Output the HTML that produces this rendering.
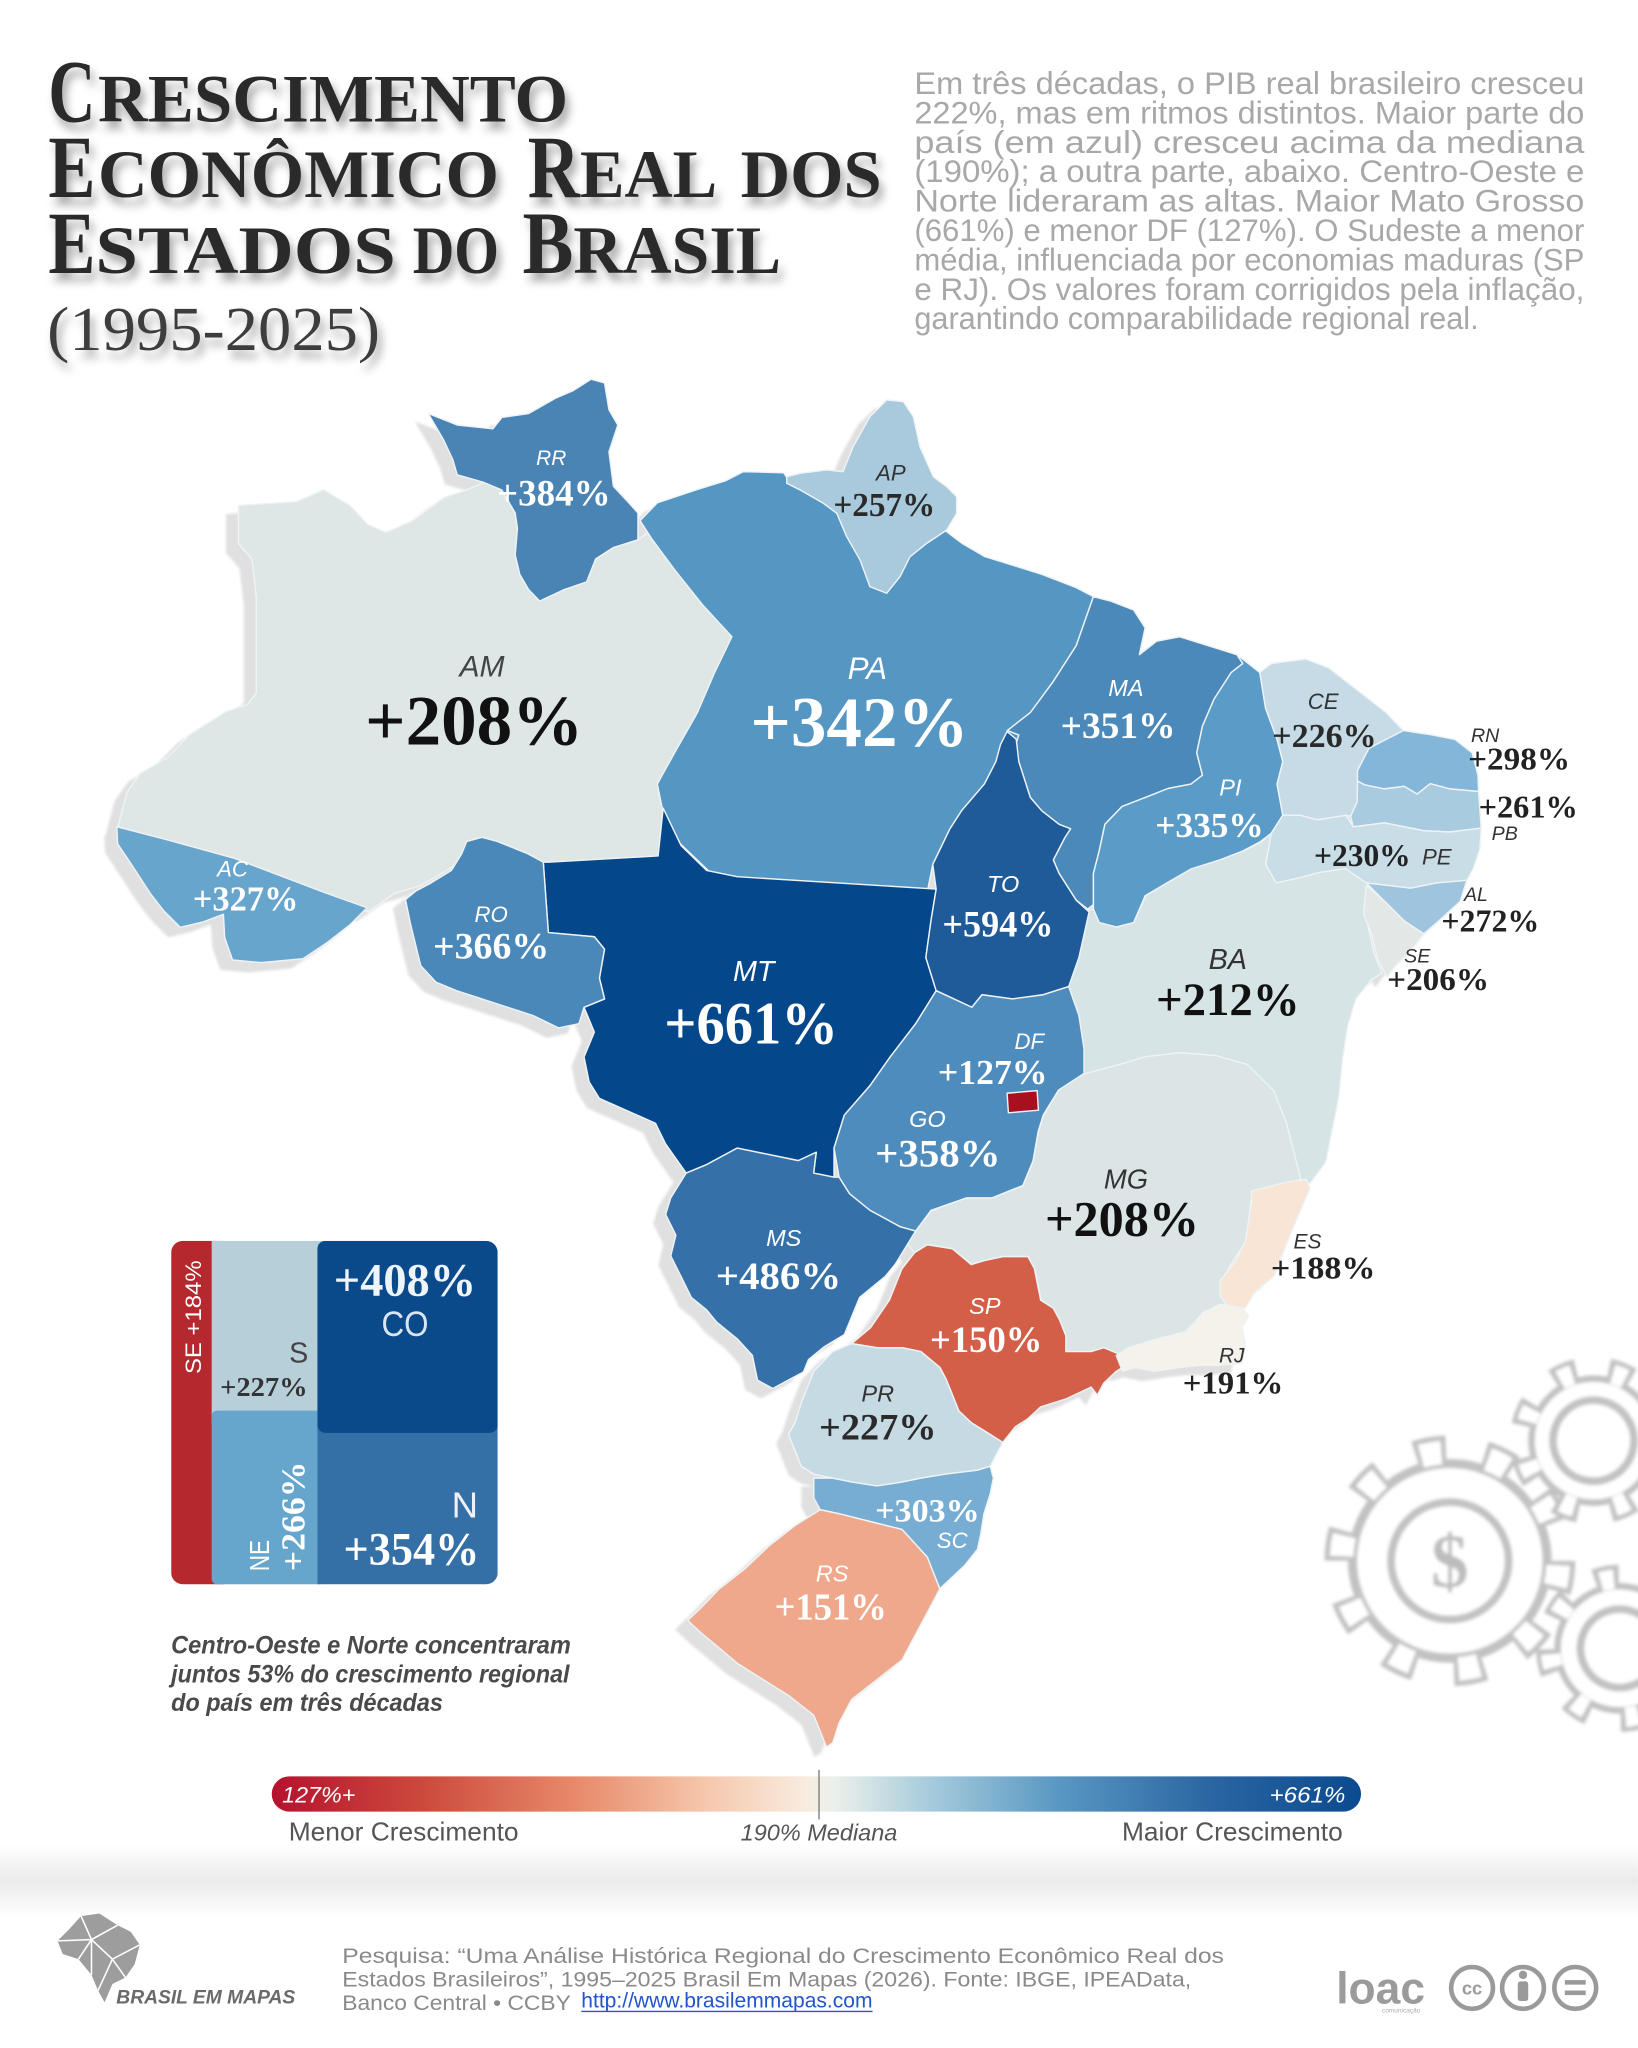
<!DOCTYPE html>
<html><head><meta charset="utf-8"><style>
html,body{margin:0;padding:0;background:#fff;}
svg{display:block;}
</style></head><body>
<svg width="1638" height="2048" viewBox="0 0 1254 1568" xmlns="http://www.w3.org/2000/svg" xmlns:xlink="http://www.w3.org/1999/xlink">
<defs>
<filter id="ts" x="-5%" y="-30%" width="115%" height="180%"><feDropShadow dx="3" dy="6" stdDeviation="3.5" flood-color="#000" flood-opacity="0.35"/></filter>
<filter id="flat" x="-5%" y="-5%" width="110%" height="110%"><feFlood flood-color="#e0e0e0"/><feComposite in2="SourceAlpha" operator="in"/><feGaussianBlur stdDeviation="1"/></filter>
<filter id="gblur"><feGaussianBlur stdDeviation="1.2"/></filter>
<linearGradient id="leg" x1="0" x2="1" y1="0" y2="0">
<stop offset="0" stop-color="#b5122e"/><stop offset="0.14" stop-color="#cc4a3c"/><stop offset="0.28" stop-color="#e88a6a"/><stop offset="0.40" stop-color="#f6c8ad"/><stop offset="0.49" stop-color="#f8ecdf"/><stop offset="0.515" stop-color="#edf0ea"/><stop offset="0.6" stop-color="#a9cddd"/><stop offset="0.72" stop-color="#5a98c4"/><stop offset="0.86" stop-color="#2b66a2"/><stop offset="1" stop-color="#0b4a8f"/>
</linearGradient>
<linearGradient id="band" x1="0" x2="0" y1="0" y2="1">
<stop offset="0" stop-color="#fff"/><stop offset="0.5" stop-color="#ebebeb"/><stop offset="1" stop-color="#fff"/>
</linearGradient>
<clipPath id="tmclip"><rect x="131" y="950" width="250" height="263" rx="9"/></clipPath>
</defs>

<!-- Title -->
<g font-family="'Liberation Serif', serif" font-weight="bold" fill="#2a2a2a" filter="url(#ts)">
<text x="37" y="93" font-size="68" textLength="36" lengthAdjust="spacingAndGlyphs">C</text>
<text x="75" y="93" font-size="52" textLength="360" lengthAdjust="spacingAndGlyphs">RESCIMENTO</text>
<text x="37" y="151" font-size="68" textLength="36" lengthAdjust="spacingAndGlyphs">E</text>
<text x="75" y="151" font-size="52" textLength="307" lengthAdjust="spacingAndGlyphs">CONÔMICO</text>
<text x="404" y="151" font-size="68" textLength="40" lengthAdjust="spacingAndGlyphs">R</text>
<text x="444" y="151" font-size="52" textLength="105" lengthAdjust="spacingAndGlyphs">EAL</text>
<text x="567" y="151" font-size="52" textLength="108" lengthAdjust="spacingAndGlyphs">DOS</text>
<text x="37" y="209" font-size="68" textLength="36" lengthAdjust="spacingAndGlyphs">E</text>
<text x="73" y="209" font-size="52" textLength="230" lengthAdjust="spacingAndGlyphs">STADOS</text>
<text x="316" y="209" font-size="52" textLength="66" lengthAdjust="spacingAndGlyphs">DO</text>
<text x="400" y="209" font-size="68" textLength="39" lengthAdjust="spacingAndGlyphs">B</text>
<text x="439" y="209" font-size="52" textLength="159" lengthAdjust="spacingAndGlyphs">RASIL</text>
</g>
<text x="36" y="268" font-family="'Liberation Serif', serif" font-size="48" fill="#3c3c3c" textLength="255" lengthAdjust="spacingAndGlyphs" filter="url(#ts)">(1995-2025)</text>

<!-- Paragraph -->
<g font-family="'Liberation Sans', sans-serif" font-size="24" fill="#a8a8a8">
<text x="700" y="72" textLength="513" lengthAdjust="spacingAndGlyphs">Em três décadas, o PIB real brasileiro cresceu</text>
<text x="700" y="94.5" textLength="513" lengthAdjust="spacingAndGlyphs">222%, mas em ritmos distintos. Maior parte do</text>
<text x="700" y="117" textLength="513" lengthAdjust="spacingAndGlyphs">país (em azul) cresceu acima da mediana</text>
<text x="700" y="139.5" textLength="513" lengthAdjust="spacingAndGlyphs">(190%); a outra parte, abaixo. Centro-Oeste e</text>
<text x="700" y="162" textLength="513" lengthAdjust="spacingAndGlyphs">Norte lideraram as altas. Maior Mato Grosso</text>
<text x="700" y="184.5" textLength="513" lengthAdjust="spacingAndGlyphs">(661%) e menor DF (127%). O Sudeste a menor</text>
<text x="700" y="207" textLength="513" lengthAdjust="spacingAndGlyphs">média, influenciada por economias maduras (SP</text>
<text x="700" y="229.5" textLength="513" lengthAdjust="spacingAndGlyphs">e RJ). Os valores foram corrigidos pela inflação,</text>
<text x="700" y="252" textLength="432" lengthAdjust="spacingAndGlyphs">garantindo comparabilidade regional real.</text>
</g>

<!-- Map shadow -->
<use xlink:href="#map" href="#map" transform="translate(-9,7)" filter="url(#flat)"/>

<!-- Map -->
<g id="map" stroke="#eef3f6" stroke-width="1.1" stroke-linejoin="round">
<polygon fill="#dee7e6" points="182.5,387 227,384 247.5,375 268,387 281.6,401.6 295.3,407.5 315.8,398.7 339.7,381 356.8,375.2 370.5,369.4 384.2,375.2 394.4,392.8 396.1,404.5 394.4,425 397.9,439.7 404.7,451.4 413.2,460.2 432,451.4 449.1,445.5 456,428 469.6,419.2 488.4,413.3 500,405 530,440 565,487 545,530 525,590 512,625 510,658 418,662 400,658 374,646 360,652 353,660 322,678 302,684 282,698 247.5,686 179,660 128,645 90.2,633 97.1,606.7 107.3,592 127.8,580.3 144.9,562.7 172.3,545.2 189.4,539.3 196.2,530.5 196.2,457.3 192.8,428 182.5,416.2"/>
<polygon fill="#5596c3" points="490,398.6 503.2,385 533.9,374.7 555.9,367.9 569.1,361.1 600,362 604,368 640,375 690,400 722,405 736.1,415.7 753.6,426 775.6,432.8 797.6,439.7 823.9,449.9 837.1,456.8 823.9,494.4 806.4,521.7 788.8,545.6 771.2,559.3 780,562.7 775.6,576.4 762.4,583.2 753.6,600.3 736.1,620.8 727.3,634.5 714.1,661.8 709.7,684 643.8,679 577.9,674 542.7,667 520.8,646 507.6,622 503.2,600.3 516.4,576.4 533.9,545.6 547.1,514.9 560.3,487.5 538.3,463.6 516.4,436.2 498.8,412.3"/>
<polygon fill="#04488b" points="419.8,660.1 503.8,655.3 507.7,618.8 521.4,647.4 540.9,666.4 564.3,671.2 716.7,680.7 712.8,704.5 708.8,733.1 716.7,758.5 701,783.8 681.5,809.2 665.9,831.4 646.4,853.7 638.5,879 638.5,901.3 622.9,898.1 624.9,882.2 611.2,888.6 587.8,883.8 564.3,879 540.9,891.7 525.3,898.1 509.6,875.9 501.8,860 458.9,841 451,828.3 447.1,809.2 455,790.2 447.1,771.2 462.8,764.8 458.9,748.9 462.8,726.7 455,717.2 419.8,714 415.9,660.1"/>
<polygon fill="#d6e4e6" points="815,700 837,696 855,710 868,706 877,686 894,675 912,665 934,658 951,652 965,645 975,636 1000,640 1040,650 1057,686 1045,695 1048,712 1052,730 1058,745 1050,750 1038,765 1032,785 1028,810 1025,840 1020,865 1015,890 1003,906 990,906 975,860 955,830 900,820 830,830 815,760"/>
<polygon fill="#dbe5e5" points="820,825 857,815 877,809 903,806 930,808 955,815 975,835 985,860 990,880 996,903 975,912 958,918 954,950 940,972 934,992 941,1002 922,1004 908,1020 884,1026 864,1032 855,1038 845,1032 835,1035 816,1035 816,1023 811,1011 806,1002 797,995 792,971 787,962 768,962 753,965 744,968 729,956 710,953 700,959 693,950 701,942 713,927 740,917 760,917 783,908 791,889 795,866 799,854 810,835"/>
<polygon fill="#4a84b5" points="327.8,316.6 350,325.4 377.3,328.3 384.2,319.6 404.7,316.6 425.2,304.9 438.9,299 452.5,290.3 462.8,293.2 466.2,313.7 473,325.4 466.2,345.9 469.6,372.3 483.3,387 488.4,392.8 488.4,413.3 469.6,419.2 456,428 449.1,445.5 432,451.4 413.2,460.2 404.7,451.4 397.9,439.7 394.4,425 396.1,404.5 394.4,392.8 384.2,375.2 370.5,369.4 350,363.5 346.6,351.8 339.7,337.1"/>
<polygon fill="#a9c9dd" points="602.3,365 612.5,362.4 632.9,359.8 645.4,361.1 653.1,342 666,319 678.8,306.2 691.6,307.5 699.2,319 704.3,342 714.5,365 724.8,372.6 732.4,380.3 732.4,393 724.8,405.8 709.5,416 696.7,426.2 689,441.5 678.8,454.2 666,449.2 658.4,428.7 648.2,410.9 640.6,393 630.3,385.3 612.5,375.1 602.3,370"/>
<polygon fill="#68a5cd" points="89.4,633 128,643 179,657 247.5,683 281,695 268,708 250,722 232,734 200,737 178,735 172,718 171,700 155,706 138,710 125,697 115,684 102,664 90,646"/>
<polygon fill="#4a88ba" points="357.3,644.2 369,641.1 380.7,644.2 404.2,653.7 415.9,660.1 419.8,714 455,717.2 462.8,726.7 458.9,748.9 462.8,764.8 447.1,771.2 443.2,783.8 427.6,787 408.1,777.5 388.6,771.2 369,764.8 349.5,758.5 333.9,752.1 322.1,739.4 314.3,707.7 310.4,688.7 318.2,682.3 330,676 345.6,666.4 353.4,653.7"/>
<polygon fill="#4a89b9" points="837.1,456.8 850.3,460.2 867.9,467 876.7,480.7 872.3,501.2 885.5,490.9 903,487.5 925,494.4 947,501.2 951.4,508 942.6,514.9 929.4,535.4 920.6,555.9 916.2,576.4 920.6,593.5 911.8,600.3 894.2,603.7 876.7,610.6 859.1,617.4 845.9,631.1 841.5,651.6 837.1,668.7 837.1,692.6 832.7,696 823.9,689.2 810.8,668.7 806.4,658.4 815.2,641.3 819.6,634.5 810.8,631.1 797.6,620.8 788.8,610.6 780,583.2 775.6,576.4 780,562.7 771.2,559.3 788.8,545.6 806.4,521.7 823.9,494.4"/>
<polygon fill="#1f5a99" points="771,560 778,566 780,583.2 788.8,610.6 797.6,620.8 810.8,631.1 819.6,634.5 815.2,641.3 806.4,658.4 810.8,668.7 823.9,689.2 833.8,698.2 826,733.1 818.2,755.3 798.7,761.6 775.2,764.8 751.8,761.6 744,771.2 716.7,758.5 708.8,733.1 712.8,704.5 716.7,680.7 714.1,661.8 727.3,634.5 736.1,620.8 753.6,600.3 762.4,583.2 766,570"/>
<polygon fill="#5b9bc8" points="947,501.2 955.8,508 964.5,514.9 968.9,542.2 977.7,566.1 982.1,583.2 977.7,600.3 982.1,624.2 973.3,637.9 964.5,644.7 951.4,651.6 933.8,658.4 911.8,665.3 894.2,675.5 876.7,685.8 867.9,706.3 854.7,709.7 841.5,706.3 837.1,696 837.1,668.7 841.5,651.6 845.9,631.1 859.1,617.4 876.7,610.6 894.2,603.7 911.8,600.3 920.6,593.5 916.2,576.4 920.6,555.9 929.4,535.4 942.6,514.9 951.4,508"/>
<polygon fill="#c6dbe5" points="964.5,514.9 973.3,508 999.7,504.6 1017.3,511.4 1039.3,528.5 1061.2,545.6 1074.4,559.3 1061.2,566.1 1048,573 1039.3,590 1039.3,598 1039,614 1034,625 1030.5,624.2 1008.5,627.7 995.3,624.2 982.1,624.2 977.7,600.3 982.1,583.2 977.7,566.1 968.9,542.2"/>
<polygon fill="#84b6d9" points="1074.4,559.3 1096.4,562.7 1113.9,566.1 1127.1,576.4 1131.5,593.5 1132,606 1110,604 1095,600 1085,608 1075,602 1060,604 1045,601 1039.3,598 1039.3,590 1048,573 1061.2,566.1"/>
<polygon fill="#a8cbe0" points="1039.3,598 1045,601 1060,604 1075,602 1085,608 1095,600 1110,604 1132,606 1134,634 1110,637 1090,636 1060,630 1036,633 1034,625 1039,614"/>
<polygon fill="#c9dde7" points="982.1,624.2 995.3,624.2 1008.5,627.7 1030.5,624.2 1036,633 1060,630 1090,636 1110,637 1134,634 1133,650 1128,665 1123,674 1100,676 1080,680 1046,676 1030,665 1010,668 995,672 977,676 969,661.8 973.3,637.9"/>
<polygon fill="#9ec5dd" points="1046,676 1080,680 1100,676 1123,674 1118,690 1105,702 1090,715 1075,705 1060,690"/>
<polygon fill="#e3e8e6" points="1046,678 1060,690 1075,705 1090,715 1080,728 1068,740 1062,748 1055,735 1050,715 1044,700"/>
<polygon fill="#4f8cbe" points="716.7,758.5 744,771.2 751.8,761.6 775.2,764.8 798.7,761.6 818.2,755.3 826,777.5 829.9,802.9 829.9,821.9 810.4,834.6 798.7,853.7 794.8,866.3 790.9,888.6 783.1,907.6 759.6,917.1 740.1,917.1 712.8,926.6 701,942.5 689.3,939.3 665.9,926.6 650.3,913.9 642.4,901.3 638.5,879 646.4,853.7 665.9,831.4 681.5,809.2 701,783.8"/>
<polygon fill="#3570a8" points="525.3,898.1 540.9,891.7 564.3,879 587.8,883.8 611.2,888.6 624.9,882.2 622.9,898.1 638.5,901.3 642.4,901.3 650.3,913.9 665.9,926.6 689.3,939.3 701,942.5 693.2,955.2 685.4,967.9 677.6,977.4 658.1,993.3 646.4,1021.8 630.7,1031.3 619,1040.9 615.1,1050.4 603.4,1056.7 591.7,1063.1 579.9,1056.7 576,1037.7 564.3,1025 548.7,1012.3 540.9,1002.8 529.2,993.3 521.4,977.4 513.5,961.6 517.4,945.7 509.6,929.8 513.5,917.1"/>
<polygon fill="#d35f49" points="652,1028.7 666.4,1016.6 680.9,995.4 690.6,971.2 700.2,959.1 709.9,953 729.2,956.1 743.6,968.2 753.3,965.2 767.7,962.1 787,962.1 791.9,971.2 796.7,995.4 806.3,1001.5 811.2,1010.6 816,1022.7 816,1034.8 835.3,1034.8 845,1031.8 859.4,1037.8 869.1,1040.8 854.6,1049.9 845,1059 840.1,1068.1 835.3,1062 816,1071.1 796.7,1077.2 787,1086.2 777.4,1092.3 767.7,1104.4 758.1,1098.3 743.6,1089.3 734,1080.2 729.2,1068.1 724.3,1056 719.5,1046.9 705,1034.8 690.6,1031.8 671.3,1031.8"/>
<polygon fill="#f9e5d6" points="958,912 985,905 1000,903 1003,910 992.1,934.9 984.8,953 980,965.2 975.2,977.3 960.7,989.4 953.5,1001.5 941.4,1001.5 934.2,992.4 934.2,980.3 946.2,965.2 953.5,950 955.9,934.9 958.3,919.8"/>
<polygon fill="#f4f2eb" points="854.6,1037.8 864.2,1031.8 883.5,1025.7 907.6,1019.6 922.1,1004.5 934.2,998.5 951,1001.5 955.9,1007.5 951,1016.6 953.5,1028.7 951,1043.9 931.8,1045.4 917.3,1045.4 902.8,1046.9 883.5,1049.9 869.1,1046.9 859.4,1049.9"/>
<polygon fill="#c5dae3" points="637.5,1034.8 652,1028.7 671.3,1031.8 690.6,1031.8 705,1034.8 719.5,1046.9 724.3,1056 729.2,1068.1 734,1080.2 743.6,1089.3 758.1,1098.3 767.7,1104.4 762.9,1113.5 758.1,1122.6 748.4,1125.6 724.3,1128.6 705,1131.7 690.6,1134.7 671.3,1137.7 652,1134.7 637.5,1131.7 623,1128.6 613.4,1122.6 608.6,1110.5 603.7,1098.3 608.6,1089.3 613.4,1074.1 623,1049.9"/>
<polygon fill="#78add3" points="623,1131.7 637.5,1131.7 652,1134.7 671.3,1137.7 690.6,1134.7 705,1131.7 724.3,1128.6 748.4,1125.6 758.1,1122.6 760.5,1131.7 758.1,1143.7 753.3,1158.9 750.9,1174 748.4,1186.1 738.8,1198.2 729.2,1207.3 719.5,1216.4 714.7,1204.3 709.9,1192.2 690.6,1171 666.4,1165 642.3,1158.9 627.9,1155.9 623,1146.8"/>
<polygon fill="#efa88b" points="627.9,1155.9 642.3,1158.9 666.4,1165 690.6,1171 709.9,1192.2 714.7,1204.3 719.5,1216.4 709.9,1234.6 700.2,1252.7 690.6,1270.9 671.3,1286 652,1301.1 642.3,1319.3 637.5,1334.4 632.7,1337.5 627.9,1325.4 623,1313.3 603.7,1298.1 584.4,1286 565.1,1273.9 550.7,1261.8 536.2,1249.7 526.5,1240.6 536.2,1231.5 550.7,1216.4 570,1201.3 589.3,1183.1 608.6,1168"/>
<polygon fill="#a80f1f" points="771,837 794,835 795,850 772,852"/>
</g>

<!-- State abbreviations -->
<g font-family="'Liberation Sans', sans-serif" font-style="italic" text-anchor="middle">
<text x="422" y="356" font-size="16" fill="#fff">RR</text>
<text x="682" y="368" font-size="17" fill="#333">AP</text>
<text x="369" y="518" font-size="23" fill="#444">AM</text>
<text x="664" y="520" font-size="24" fill="#fff">PA</text>
<text x="862" y="533" font-size="18" fill="#fff">MA</text>
<text x="1013" y="543" font-size="17" fill="#333">CE</text>
<text x="1137" y="568" font-size="15" fill="#333">RN</text>
<text x="1152" y="643" font-size="15" fill="#333">PB</text>
<text x="942" y="609" font-size="18" fill="#fff">PI</text>
<text x="1100" y="662" font-size="17" fill="#333">PE</text>
<text x="1130" y="690" font-size="15" fill="#333">AL</text>
<text x="1085" y="737" font-size="15" fill="#333">SE</text>
<text x="178" y="671" font-size="17" fill="#fff">AC</text>
<text x="376" y="706" font-size="17" fill="#fff">RO</text>
<text x="768" y="683" font-size="18" fill="#fff">TO</text>
<text x="577" y="751" font-size="22" fill="#fff">MT</text>
<text x="940" y="742" font-size="22" fill="#333">BA</text>
<text x="788" y="803" font-size="17" fill="#fff">DF</text>
<text x="710" y="863" font-size="18" fill="#fff">GO</text>
<text x="862" y="910" font-size="21" fill="#333">MG</text>
<text x="1001" y="956" font-size="16" fill="#333">ES</text>
<text x="600" y="954" font-size="18" fill="#fff">MS</text>
<text x="754" y="1006" font-size="18" fill="#fff">SP</text>
<text x="943" y="1043" font-size="16" fill="#333">RJ</text>
<text x="672" y="1073" font-size="18" fill="#333">PR</text>
<text x="729" y="1185" font-size="17" fill="#fff">SC</text>
<text x="637" y="1211" font-size="18" fill="#fff">RS</text>
</g>

<!-- Values -->
<g font-family="'Liberation Serif', serif" font-weight="bold" text-anchor="middle">
<text x="424" y="387" font-size="28" fill="#fff" textLength="87" lengthAdjust="spacingAndGlyphs">+384%</text>
<text x="677" y="395" font-size="26" fill="#2a2a2a" textLength="78" lengthAdjust="spacingAndGlyphs">+257%</text>
<text x="363" y="570" font-size="54" fill="#111" textLength="167" lengthAdjust="spacingAndGlyphs">+208%</text>
<text x="658" y="571" font-size="54" fill="#fff" textLength="167" lengthAdjust="spacingAndGlyphs">+342%</text>
<text x="856" y="565" font-size="28" fill="#fff" textLength="88" lengthAdjust="spacingAndGlyphs">+351%</text>
<text x="1014" y="572" font-size="26" fill="#2a2a2a" textLength="80" lengthAdjust="spacingAndGlyphs">+226%</text>
<text x="1163" y="589" font-size="24" fill="#222" textLength="78" lengthAdjust="spacingAndGlyphs">+298%</text>
<text x="1170" y="626" font-size="24" fill="#222" textLength="76" lengthAdjust="spacingAndGlyphs">+261%</text>
<text x="926" y="641" font-size="27" fill="#fff" textLength="83" lengthAdjust="spacingAndGlyphs">+335%</text>
<text x="1043" y="663" font-size="24" fill="#222" textLength="74" lengthAdjust="spacingAndGlyphs">+230%</text>
<text x="1141" y="713" font-size="24" fill="#222" textLength="75" lengthAdjust="spacingAndGlyphs">+272%</text>
<text x="1101" y="758" font-size="24" fill="#222" textLength="78" lengthAdjust="spacingAndGlyphs">+206%</text>
<text x="188" y="697" font-size="27" fill="#fff" textLength="81" lengthAdjust="spacingAndGlyphs">+327%</text>
<text x="376" y="734" font-size="28" fill="#fff" textLength="89" lengthAdjust="spacingAndGlyphs">+366%</text>
<text x="764" y="717" font-size="28" fill="#fff" textLength="85" lengthAdjust="spacingAndGlyphs">+594%</text>
<text x="575" y="799" font-size="46" fill="#fff" textLength="133" lengthAdjust="spacingAndGlyphs">+661%</text>
<text x="940" y="777" font-size="36" fill="#111" textLength="110" lengthAdjust="spacingAndGlyphs">+212%</text>
<text x="760" y="830" font-size="27" fill="#fff" textLength="84" lengthAdjust="spacingAndGlyphs">+127%</text>
<text x="718" y="893" font-size="30" fill="#fff" textLength="96" lengthAdjust="spacingAndGlyphs">+358%</text>
<text x="859" y="946" font-size="38" fill="#111" textLength="118" lengthAdjust="spacingAndGlyphs">+208%</text>
<text x="1013" y="979" font-size="24" fill="#222" textLength="80" lengthAdjust="spacingAndGlyphs">+188%</text>
<text x="596" y="987" font-size="30" fill="#fff" textLength="96" lengthAdjust="spacingAndGlyphs">+486%</text>
<text x="755" y="1035" font-size="28" fill="#fff" textLength="86" lengthAdjust="spacingAndGlyphs">+150%</text>
<text x="944" y="1067" font-size="24" fill="#222" textLength="77" lengthAdjust="spacingAndGlyphs">+191%</text>
<text x="672" y="1102" font-size="28" fill="#2a2a2a" textLength="90" lengthAdjust="spacingAndGlyphs">+227%</text>
<text x="710" y="1165" font-size="25" fill="#fff" textLength="80" lengthAdjust="spacingAndGlyphs">+303%</text>
<text x="636" y="1240" font-size="29" fill="#fff" textLength="86" lengthAdjust="spacingAndGlyphs">+151%</text>
</g>

<!-- Gears -->
<g filter="url(#gblur)">
 <g transform="translate(1110,1195)">
  <circle r="78" fill="#c2c2c2"/>
  <circle r="87" fill="none" stroke="#c2c2c2" stroke-width="18" stroke-dasharray="24 30.664"/>
  <circle r="71" fill="#fff"/>
  <circle r="83" fill="none" stroke="#fff" stroke-width="18" stroke-dasharray="15.8 36.35" stroke-dashoffset="-3.55"/>
  <circle r="45" fill="none" stroke="#c2c2c2" stroke-width="6"/>
  <text x="0" y="20" text-anchor="middle" font-family="'Liberation Serif', serif" font-weight="bold" font-size="58" fill="#bdbdbd">$</text>
 </g>
 <g transform="translate(1220,1103) rotate(12)">
  <circle r="50" fill="#c2c2c2"/>
  <circle r="57" fill="none" stroke="#c2c2c2" stroke-width="14" stroke-dasharray="19 25.77"/>
  <circle r="45" fill="#fff"/>
  <circle r="53" fill="none" stroke="#fff" stroke-width="15" stroke-dasharray="10.2 31.43" stroke-dashoffset="-3.73"/>
  <circle r="31" fill="none" stroke="#c2c2c2" stroke-width="6"/>
 </g>
 <g transform="translate(1240,1262) rotate(25)">
  <circle r="50" fill="#c2c2c2"/>
  <circle r="57" fill="none" stroke="#c2c2c2" stroke-width="14" stroke-dasharray="19 25.77"/>
  <circle r="45" fill="#fff"/>
  <circle r="53" fill="none" stroke="#fff" stroke-width="15" stroke-dasharray="10.2 31.43" stroke-dashoffset="-3.73"/>
  <circle r="30" fill="none" stroke="#c2c2c2" stroke-width="6"/>
 </g>
</g>

<!-- Treemap -->
<g clip-path="url(#tmclip)">
<rect x="131" y="950" width="40" height="263" fill="#b4282e"/>
<rect x="162" y="950" width="90" height="140" fill="#b6cfd9"/>
<rect x="162" y="1080" width="86" height="133" rx="4" fill="#67a6cc"/>
<rect x="243" y="1090" width="138" height="123" fill="#346fa6"/>
<rect x="243" y="950" width="138" height="147" rx="6" fill="#0a4a8b"/>
</g>
<text transform="translate(154,1052) rotate(-90)" font-family="'Liberation Sans', sans-serif" font-size="17" fill="#fff" textLength="87" lengthAdjust="spacingAndGlyphs">SE +184%</text>
<text x="236" y="1043" text-anchor="end" font-family="'Liberation Sans', sans-serif" font-size="22" fill="#444">S</text>
<text x="202" y="1069" text-anchor="middle" font-family="'Liberation Serif', serif" font-weight="bold" font-size="21" fill="#333" textLength="67" lengthAdjust="spacingAndGlyphs">+227%</text>
<text x="310" y="992" text-anchor="middle" font-family="'Liberation Serif', serif" font-weight="bold" font-size="36" fill="#eef4fa" textLength="109" lengthAdjust="spacingAndGlyphs">+408%</text>
<text x="310" y="1023" text-anchor="middle" font-family="'Liberation Sans', sans-serif" font-size="27" fill="#d8e6f2" textLength="36" lengthAdjust="spacingAndGlyphs">CO</text>
<text x="366" y="1162" text-anchor="end" font-family="'Liberation Sans', sans-serif" font-size="28" fill="#eef2f8">N</text>
<text x="315" y="1198" text-anchor="middle" font-family="'Liberation Serif', serif" font-weight="bold" font-size="36" fill="#fff" textLength="104" lengthAdjust="spacingAndGlyphs">+354%</text>
<text transform="translate(206,1203) rotate(-90)" font-family="'Liberation Sans', sans-serif" font-size="21" fill="#fff" textLength="24" lengthAdjust="spacingAndGlyphs">NE</text>
<text transform="translate(233,1203) rotate(-90)" font-family="'Liberation Serif', serif" font-weight="bold" font-size="26" fill="#fff" textLength="84" lengthAdjust="spacingAndGlyphs">+266%</text>

<!-- Caption -->
<g font-family="'Liberation Sans', sans-serif" font-style="italic" font-weight="bold" font-size="19" fill="#4a4a4a">
<text x="131" y="1266" textLength="306" lengthAdjust="spacingAndGlyphs">Centro-Oeste e Norte concentraram</text>
<text x="131" y="1288" textLength="305" lengthAdjust="spacingAndGlyphs">juntos 53% do crescimento regional</text>
<text x="131" y="1310" textLength="208" lengthAdjust="spacingAndGlyphs">do país em três décadas</text>
</g>

<!-- Legend -->
<rect x="0" y="1412" width="1254" height="56" fill="url(#band)"/>
<rect x="208" y="1360" width="834" height="27" rx="13.5" fill="url(#leg)"/>
<line x1="627" y1="1355" x2="627" y2="1393" stroke="#777" stroke-width="1"/>
<g font-family="'Liberation Sans', sans-serif" font-style="italic" font-size="17" fill="#fff">
<text x="216" y="1380" textLength="56" lengthAdjust="spacingAndGlyphs">127%+</text>
<text x="1030" y="1380" text-anchor="end" textLength="58" lengthAdjust="spacingAndGlyphs">+661%</text>
</g>
<g font-family="'Liberation Sans', sans-serif" font-size="20" fill="#555">
<text x="221" y="1409" textLength="176" lengthAdjust="spacingAndGlyphs">Menor Crescimento</text>
<text x="627" y="1409" text-anchor="middle" font-style="italic" font-size="18" textLength="120" lengthAdjust="spacingAndGlyphs">190% Mediana</text>
<text x="1028" y="1409" text-anchor="end" textLength="169" lengthAdjust="spacingAndGlyphs">Maior Crescimento</text>
</g>

<!-- Footer logo -->
<g>
<polygon points="62,1467 76,1465 90,1474 100,1479 107,1489 103,1504 96,1514 86,1519 80,1533 75,1524 70,1512 60,1500 48,1496 44,1486 52,1478" fill="#9d9d9d"/>
<g stroke="#fff" stroke-width="1.2" fill="none">
<polyline points="62,1467 70,1485 90,1474"/><polyline points="44,1486 70,1485 60,1500"/><polyline points="70,1485 86,1500 107,1489"/><polyline points="86,1500 75,1524"/><polyline points="86,1500 96,1514"/><polyline points="70,1485 70,1512"/>
</g>
<text x="89" y="1534" font-family="'Liberation Sans', sans-serif" font-style="italic" font-weight="bold" font-size="15" fill="#6a6a6a" textLength="137" lengthAdjust="spacingAndGlyphs">BRASIL EM MAPAS</text>
</g>
<g font-family="'Liberation Sans', sans-serif" font-size="16" fill="#8a8a8a">
<text x="262" y="1503" textLength="675" lengthAdjust="spacingAndGlyphs">Pesquisa: “Uma Análise Histórica Regional do Crescimento Econômico Real dos</text>
<text x="262" y="1521" textLength="650" lengthAdjust="spacingAndGlyphs">Estados Brasileiros”, 1995–2025 Brasil Em Mapas (2026). Fonte: IBGE, IPEAData,</text>
<text x="262" y="1539" textLength="175" lengthAdjust="spacingAndGlyphs">Banco Central • CCBY</text>
<text x="445" y="1537" fill="#2255cc" textLength="223" lengthAdjust="spacingAndGlyphs">http://www.brasilemmapas.com</text>
</g>
<line x1="445" y1="1540" x2="668" y2="1540" stroke="#2255cc" stroke-width="1"/>

<!-- loac + cc -->
<text x="1023" y="1534" font-family="'Liberation Sans', sans-serif" font-weight="bold" font-size="34" fill="#9b9b9b" textLength="68" lengthAdjust="spacingAndGlyphs">loac</text>
<text x="1058" y="1541" font-family="'Liberation Sans', sans-serif" font-size="5" fill="#aaa">comunicação</text>
<g stroke="#9a9a9a" stroke-width="3.5" fill="#fff">
<circle cx="1127" cy="1522" r="16"/>
<circle cx="1166" cy="1522" r="16"/>
<circle cx="1206" cy="1522" r="16"/>
</g>
<text x="1127" y="1527" text-anchor="middle" font-family="'Liberation Sans', sans-serif" font-weight="bold" font-size="14" fill="#9a9a9a">cc</text>
<circle cx="1166" cy="1512" r="3.2" fill="#9a9a9a"/>
<rect x="1162" y="1517" width="8" height="15" rx="2" fill="#9a9a9a"/>
<rect x="1198" y="1516" width="16" height="3.5" fill="#9a9a9a"/>
<rect x="1198" y="1524" width="16" height="3.5" fill="#9a9a9a"/>
</svg>
</body></html>
